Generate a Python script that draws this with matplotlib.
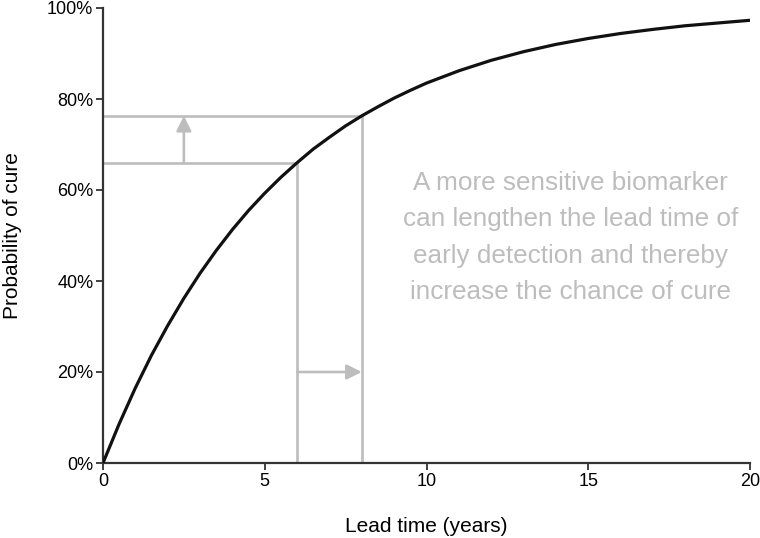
import matplotlib

matplotlib.use('Agg')

import matplotlib.pyplot as plt
from matplotlib.ticker import PercentFormatter

# values
lead_years = [0, 0.5, 1, 1.5, 2, 2.5, 3, 3.5, 4, 4.5, 5, 5.5, 6, 6.5, 7, 7.5, 8,
              8.5, 9, 9.5, 10, 11, 12, 13, 14, 15, 16, 17, 18, 19, 20]
cure_pct = [0, 8.6, 16.5, 23.7, 30.2, 36.2, 41.7, 46.7, 51.3, 55.5, 59.3, 62.8,
            66.0, 69.0, 71.6, 74.1, 76.3, 78.3, 80.2, 81.9, 83.5,
            86.2, 88.5, 90.4, 92.0, 93.3, 94.4, 95.3, 96.1, 96.7, 97.3]

# the two detection times and their cure probabilities
early_t, early_p = 6, 66.0
better_t, better_p = 8, 76.3
arrow_x = 2.5
arrow_y = 20

x_ticks = [0, 5, 10, 15, 20]
y_ticks = [0, 20, 40, 60, 80, 100]

note = ('A more sensitive biomarker\ncan lengthen the lead time of\n'
        'early detection and thereby\nincrease the chance of cure')

plt.rcParams['font.family'] = ['Liberation Sans', 'DejaVu Sans']

grey = '#bdbdbd'
dark = '#333333'

fig = plt.figure(figsize=(7.6, 5.38), dpi=100)
ax = fig.add_axes([103 / 760, 1 - 463 / 538, 647 / 760, 455 / 538])

# guide lines
for t, p in [(early_t, early_p), (better_t, better_p)]:
    ax.plot([t, t], [0, p], color=grey, lw=1.9, zorder=1)
    ax.plot([0, t], [p, p], color=grey, lw=1.9, zorder=1)

ax.annotate('', xy=(arrow_x, better_p), xytext=(arrow_x, early_p),
            arrowprops=dict(arrowstyle='-|>,head_length=0.9,head_width=0.45',
                            color=grey, lw=1.9, shrinkA=0, shrinkB=0))
ax.annotate('', xy=(better_t, arrow_y), xytext=(early_t, arrow_y),
            arrowprops=dict(arrowstyle='-|>,head_length=0.9,head_width=0.45',
                            color=grey, lw=1.9, shrinkA=0, shrinkB=0))

ax.plot(lead_years, cure_pct, color='#111111', lw=2.3, zorder=3,
        solid_capstyle='round', solid_joinstyle='round')

ax.text(14.44, 49.6, note, color=grey, fontsize=18.8, ha='center', va='center',
        linespacing=1.66)

ax.set_xlim(0, 20)
ax.set_ylim(0, 100)
ax.set_xticks(x_ticks)
ax.set_yticks(y_ticks)
ax.yaxis.set_major_formatter(PercentFormatter(decimals=0))

for side in ('top', 'right'):
    ax.spines[side].set_visible(False)
for side in ('left', 'bottom'):
    ax.spines[side].set_color(dark)
    ax.spines[side].set_linewidth(1.6)
ax.tick_params(colors=dark, labelcolor='black', width=1.3, length=5,
               labelsize=13, pad=2)

ax.set_xlabel('Lead time (years)', fontsize=15, labelpad=20)
ax.set_ylabel('Probability of cure', fontsize=15, labelpad=18)

fig.savefig('out.png', dpi=100)
